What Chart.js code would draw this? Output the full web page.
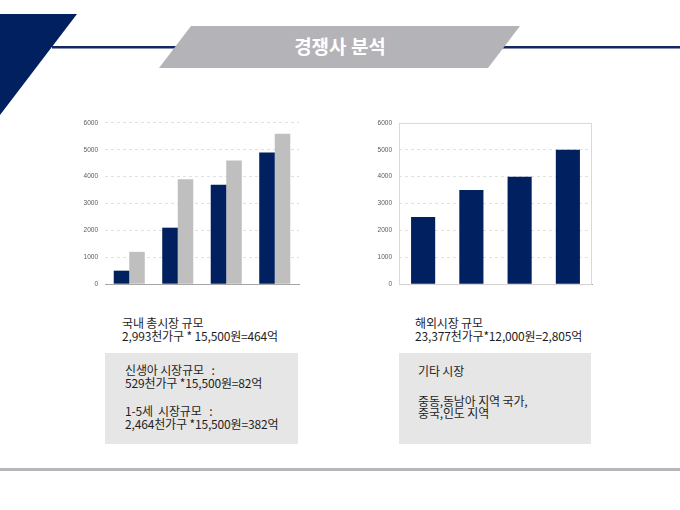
<!DOCTYPE html>
<html>
<head>
<meta charset="utf-8">
<script src="https://cdn.jsdelivr.net/npm/chart.js@4"></script>
<style>
  html, body { margin:0; padding:0; background:#ffffff; }
  #page { position:relative; width:680px; height:510px; overflow:hidden; background:#fff;
          font-family:"Noto Sans CJK KR","Noto Sans",sans-serif; }
  .abs { position:absolute; }
  .t { position:absolute; font-size:12px; line-height:14px; color:#1e1e1e; white-space:pre; letter-spacing:-0.15px; }
  .box { position:absolute; background:#e7e6e6; }
  canvas { position:absolute; }
</style>
</head>
<body>
<div id="page">
  <svg class="abs" style="left:0;top:0" width="680" height="130">
    <polygon points="0,14 77,14 0,115" fill="#002060"/>
    <rect x="52" y="46" width="628" height="2.5" fill="#14275e"/>
    <polygon points="191,26 520,26 488,68 159,68" fill="#b3b3b8"/>
    <text x="340" y="54" text-anchor="middle" fill="#ffffff" font-size="19" font-weight="bold"
          font-family="Noto Sans CJK KR, sans-serif">경쟁사 분석</text>
  </svg>

  <canvas id="c1" style="left:55px;top:112px;width:250px;height:183px" width="250" height="183"></canvas>
  <canvas id="c2" style="left:349px;top:112px;width:250px;height:183px" width="250" height="183"></canvas>

  <div class="t" style="left:122px;top:316px">국내 총시장 규모</div>
  <div class="t" style="left:122px;top:329px">2,993천가구 * 15,500원=464억</div>
  <div class="box" style="left:105px;top:353px;width:193px;height:91px"></div>
  <div class="t" style="left:125px;top:363px">신생아 시장규모   :</div>
  <div class="t" style="left:125px;top:376px">529천가구 *15,500원=82억</div>
  <div class="t" style="left:125px;top:404px">1-5세  시장규모   :</div>
  <div class="t" style="left:125px;top:417px">2,464천가구 *15,500원=382억</div>

  <div class="t" style="left:415px;top:316px">해외시장 규모</div>
  <div class="t" style="left:415px;top:329px">23,377천가구*12,000원=2,805억</div>
  <div class="box" style="left:399px;top:353px;width:192px;height:91px"></div>
  <div class="t" style="left:418px;top:364px">기타 시장</div>
  <div class="t" style="left:418px;top:394px">중동,동남아 지역 국가,</div>
  <div class="t" style="left:418px;top:406px">중국,인도 지역</div>

  <div class="abs" style="left:0;top:468px;width:680px;height:3px;background:#b7b7bb"></div>
</div>

<script>
const categories = ['1', '2', '3', '4'];
const domesticNavy = [500, 2100, 3700, 4900];
const domesticGray = [1200, 3900, 4600, 5600];
const overseasValues = [2500, 3500, 4000, 5000];
const yTickValues = [0, 1000, 2000, 3000, 4000, 5000, 6000];

const NAVY = '#002060';
const GRAY = '#bfbfbf';

function yScale(hideTop) {
  return {
    min: 0, max: 6000,
    afterFit: s => { s.width = 50; },
    afterBuildTicks: s => { s.ticks = yTickValues.map(v => ({ value: v })); },
    ticks: { font: { family: 'Liberation Sans', size: 6.5 }, color: '#595959', padding: 7,
             callback: v => String(v) },
    grid: {
      drawTicks: false,
      color: c => (c.tick && c.tick.value === 0) ? 'rgba(0,0,0,0)' :
                  (hideTop && c.tick && c.tick.value === 6000) ? 'rgba(0,0,0,0)' : '#d9d9d9',
      lineWidth: 0.8
    },
    border: { display: false, dash: [3, 3] }
  };
}
function xScale() {
  return {
    afterFit: s => { s.height = 0; },
    ticks: { display: false },
    grid: { display: false, drawTicks: false },
    border: { display: true, color: '#a6a6a6', width: 1 }
  };
}

const frame = {
  id: 'frame',
  beforeDatasetsDraw(chart) {
    const a = chart.chartArea, ctx = chart.ctx;
    ctx.save();
    ctx.strokeStyle = '#d9d9d9';
    ctx.lineWidth = 1;
    ctx.strokeRect(a.left + 0.5, a.top + 0.5, a.right - a.left - 1, a.bottom - a.top);
    ctx.restore();
  }
};

const common = {
  responsive: false, animation: false,
  plugins: { legend: { display: false }, tooltip: { enabled: false } }
};

new Chart(document.getElementById('c1'), {
  type: 'bar',
  data: {
    labels: categories,
    datasets: [
      { data: domesticNavy, backgroundColor: NAVY, barPercentage: 1, categoryPercentage: 0.64 },
      { data: domesticGray, backgroundColor: GRAY, barPercentage: 1, categoryPercentage: 0.64 }
    ]
  },
  options: Object.assign({}, common, {
    layout: { padding: { top: 10, right: 6, bottom: 6, left: 0 } },
    scales: { x: xScale(), y: yScale(false) }
  })
});

new Chart(document.getElementById('c2'), {
  type: 'bar',
  data: {
    labels: categories,
    datasets: [
      { data: overseasValues, backgroundColor: NAVY, barPercentage: 0.5, categoryPercentage: 1 }
    ]
  },
  options: Object.assign({}, common, {
    layout: { padding: { top: 10, right: 7, bottom: 6, left: 0 } },
    scales: { x: xScale(), y: yScale(true) }
  }),
  plugins: [frame]
});
</script>
</body>
</html>
